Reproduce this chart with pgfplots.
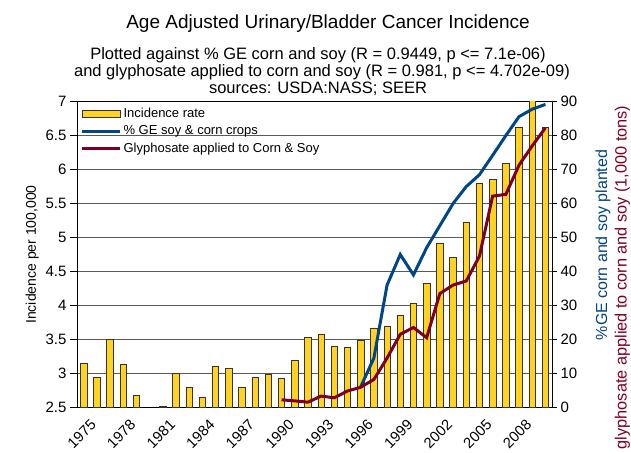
\documentclass[border=0pt]{standalone}
\usepackage{fontspec}
\setmainfont{Liberation Sans}
\usepackage{pgfplots}
\pgfplotsset{compat=1.18}
\definecolor{gold}{HTML}{FFD320}
\definecolor{geblue}{HTML}{004586}
\definecolor{maroon}{HTML}{7E0021}
\begin{document}
\begin{tikzpicture}[x=1pt,y=1pt]
\pgfplotsset{
  common/.style={
    at={(0,0)}, anchor=south west,
    scale only axis, width=475pt, height=305.6pt,
    xmin=1974.5, xmax=2010.5,
    /pgf/number format/assume math mode=true,
    tick align=outside,
    tick style={black, line width=0.8pt},
  }
}
\begin{axis}[common,
  ymin=2.5, ymax=7,
  ytick={2.5,3,3.5,4,4.5,5,5.5,6,6.5,7},
  ytick pos=left,
  major tick length=7pt,
  xtick={1975,1978,...,2008},
  xtick pos=bottom,
  x tick style={draw=none},
  minor xtick={1974.5,1975.5,...,2010.5},
  minor tick length=6pt,
  minor x tick style={black, line width=0.8pt},
  xticklabel style={rotate=45, anchor=north east, inner sep=0.5pt, yshift=-6.5pt, xshift=2pt, font=\fontsize{14.8}{14.8}\selectfont},
  yticklabel style={font=\fontsize{15}{15}\selectfont},
  x tick label style={/pgf/number format/1000 sep={}},
  ymajorgrids, major grid style={black!65, line width=0.8pt},
  axis line style={black, line width=0.8pt},
  ylabel={Incidence per 100,000},
  ylabel style={font=\fontsize{14}{14}\selectfont},
  ybar, bar width=6.5pt,
]
\addplot[fill=gold, draw=black!80, line width=0.6pt] coordinates {
(1975,3.15) (1976,2.94) (1977,3.50) (1978,3.14) (1979,2.67)
(1981,2.52) (1982,3.00) (1983,2.80) (1984,2.65) (1985,3.10)
(1986,3.07) (1987,2.80) (1988,2.94) (1989,2.98) (1990,2.93)
(1991,3.19) (1992,3.53) (1993,3.58) (1994,3.40) (1995,3.38)
(1996,3.48) (1997,3.67) (1998,3.70) (1999,3.86) (2000,4.03)
(2001,4.32) (2002,4.92) (2003,4.71) (2004,5.23) (2005,5.80)
(2006,5.86) (2007,6.09) (2008,6.62) (2009,7.05) (2010,6.62)
};
\end{axis}
\begin{axis}[common,
  ymin=0, ymax=90,
  ytick={0,10,...,90},
  axis y line*=right,
  axis x line=none,
  major tick length=5pt,
  yticklabel style={font=\fontsize{15}{15}\selectfont},
  axis line style={black, line width=0.8pt},
  legend style={at={(0.005,0.99)}, anchor=north west, draw=none, fill=none,
     font=\fontsize{13}{13}\selectfont, row sep=3pt, inner sep=1pt,
     cells={anchor=west}},
  legend cell align=left,
]
\addlegendimage{legend image code/.code={\draw[fill=gold, draw=black!80, line width=0.6pt] (0pt,-3.5pt) rectangle (38pt,3.5pt);}}
\addlegendentry{Incidence rate}
\addplot[geblue, line width=3pt, legend image code/.code={\draw[geblue, line width=3pt] (0pt,0pt) -- (38pt,0pt);}] coordinates {
(1996,6) (1997,14.5) (1998,36) (1999,45) (2000,39) (2001,47)
(2002,53.5) (2003,60) (2004,65) (2005,68.5) (2006,74.2) (2007,80)
(2008,85.6) (2009,87.8) (2010,89.2)
};
\addlegendentry{\% GE soy \& corn crops}
\addplot[maroon, line width=3pt, legend image code/.code={\draw[maroon, line width=3pt] (0pt,0pt) -- (38pt,0pt);}] coordinates {
(1990,2.2) (1991,1.9) (1992,1.5) (1993,3.3) (1994,2.8) (1995,4.8)
(1996,5.9) (1997,8.2) (1998,14.5) (1999,21.5) (2000,23.5) (2001,20.5)
(2002,33.5) (2003,36) (2004,37.2) (2005,44.5) (2006,62.2) (2007,62.7)
(2008,71.3) (2009,77) (2010,82.3)
};
\addlegendentry{Glyphosate applied to Corn \& Soy}
\end{axis}
% titles (image px -> tikz: X-77, 407.3-Y)
\node[anchor=base, font=\fontsize{19}{19}\selectfont] at (251,379) {Age Adjusted Urinary/Bladder Cancer Incidence};
\node[anchor=base, font=\fontsize{16.5}{16.5}\selectfont] at (241,347.3) {Plotted against \% GE corn and soy (R = 0.9449, p <= 7.1e-06)};
\node[anchor=base, font=\fontsize{16.5}{16.5}\selectfont] at (245,330.3) {and glyphosate applied to corn and soy (R = 0.981, p <= 4.702e-09)};
\node[anchor=base, font=\fontsize{16.5}{16.5}\selectfont] at (241,313.3) {sources: USDA:NASS; SEER};
\node[rotate=90, anchor=center, text=geblue, font=\fontsize{16}{16}\selectfont] at (526,162.3) {\%GE corn and soy planted};
\node[rotate=90, anchor=west, inner sep=0pt, text=maroon, font=\fontsize{16.3}{16.3}\selectfont] at (545.5,-42) {glyphosate applied to corn and soy (1,000 tons)};
\pgfresetboundingbox
\path[use as bounding box] (-77,-44.7) rectangle (554,407.3);
\end{tikzpicture}
\end{document}
